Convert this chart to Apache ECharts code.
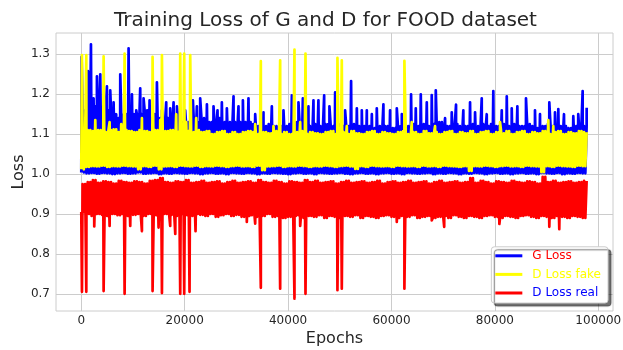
<!DOCTYPE html>
<html>
<head>
<meta charset="utf-8">
<script src="https://cdn.jsdelivr.net/npm/echarts@6/dist/echarts.min.js"></script>
<style>
  html, body { margin: 0; padding: 0; background: #fff; }
  #chart { width: 623px; height: 350px; }
</style>
</head>
<body>
<div id="chart"></div>
<script>
// epochs covered by one band bin
const BIN = 1000

const xTicks = [0, 20000, 40000, 60000, 80000, 100000]
const yTicks = [0.7, 0.8, 0.9, 1.0, 1.1, 1.2, 1.3]

// G Loss: typical band per bin (low / high) + single spikes [epoch, value]
const gLow = [
  1.004,1.002,1.003,1.001,1.003,1.002,1.000,1.002,1.003,1.001,
  1.002,1.004,1.001,1.002,1.003,1.000,1.002,1.001,1.003,1.002,
  1.001,1.003,1.002,1.000,1.002,1.003,1.001,1.002,1.000,1.003,
  1.002,1.001,1.003,1.002,1.000,1.002,1.001,1.003,1.002,1.001,
  1.000,1.002,1.003,1.001,1.002,1.000,1.003,1.002,1.001,1.002,
  1.003,1.001,1.000,1.002,1.003,1.001,1.002,1.000,1.002,1.003,
  1.001,1.002,1.000,1.003,1.002,1.001,1.002,1.003,1.000,1.002,
  1.001,1.003,1.002,1.000,1.002,1.001,1.003,1.002,1.000,1.002,
  1.003,1.001,1.002,1.000,1.002,1.003,1.001,1.002,1.000,1.003,
  1.002,1.001,1.003,1.000,1.002,1.001,1.003,1.002
]
const gHigh = [
  1.16,1.17,1.17,1.16,1.17,1.16,1.15,1.14,1.15,1.16,
  1.15,1.15,1.16,1.14,1.15,1.14,1.14,1.15,1.14,1.13,
  1.13,1.14,1.13,1.14,1.13,1.13,1.14,1.13,1.13,1.13,
  1.13,1.13,1.13,1.125,1.12,1.12,1.125,1.12,1.12,1.12,
  1.125,1.13,1.12,1.125,1.12,1.125,1.12,1.125,1.12,1.125,
  1.12,1.12,1.125,1.12,1.12,1.12,1.115,1.12,1.12,1.12,
  1.115,1.12,1.115,1.12,1.125,1.12,1.125,1.12,1.125,1.13,
  1.12,1.12,1.125,1.12,1.12,1.125,1.12,1.125,1.12,1.125,
  1.12,1.125,1.12,1.125,1.12,1.12,1.125,1.12,1.115,1.12,
  1.125,1.12,1.12,1.12,1.115,1.12,1.125,1.12
]
const gSpikes = [
  [60,1.294],[1290,1.258],[1870,1.325],[2380,1.19],[3030,1.245],[3670,1.25],
  [4960,1.22],[5600,1.21],[6250,1.18],[7540,1.25],[9150,1.315],[9800,1.2],
  [10630,1.16],[11400,1.215],[12050,1.19],[13210,1.185],[14630,1.23],[15600,1.16],
  [16430,1.18],[17200,1.165],[17850,1.18],[18500,1.17],[20100,1.16],[21590,1.185],
  [22360,1.17],[23000,1.19],[24300,1.175],[25580,1.17],[26350,1.16],[27190,1.18],
  [28160,1.165],[29450,1.195],[30410,1.17],[31260,1.185],[32340,1.19],[33640,1.15],
  [35240,1.155],[36860,1.17],[39110,1.16],[40730,1.197],[42010,1.18],[42860,1.19],
  [43940,1.17],[44910,1.185],[45870,1.185],[46980,1.197],[48000,1.17],[49100,1.205],
  [51030,1.16],[52190,1.233],[53300,1.165],[54260,1.16],[55230,1.16],[56200,1.15],
  [57160,1.165],[58440,1.175],[59730,1.16],[61030,1.165],[62000,1.15],[63790,1.2],
  [64700,1.165],[65670,1.2],[66830,1.18],[67790,1.198],[68570,1.21],[70370,1.14],
  [71660,1.155],[72490,1.174],[73900,1.16],[75200,1.18],[76170,1.155],[77460,1.19],
  [78430,1.15],[79700,1.208],[81330,1.16],[82300,1.195],[83260,1.165],[84350,1.17],
  [86020,1.19],[87760,1.16],[88730,1.15],[90530,1.18],[91630,1.155],[92270,1.163],
  [93370,1.15],[95170,1.145],[96130,1.15],[96980,1.208],[97760,1.166]
]

// D Loss fake
const fLow = [
  1.012,1.018,1.02,1.019,1.021,1.018,1.02,1.019,1.021,1.02,
  1.019,1.012,1.02,1.018,1.021,1.012,1.019,1.02,1.018,1.021,
  1.02,1.019,1.021,1.018,1.02,1.019,1.021,1.02,1.018,1.02,
  1.021,1.019,1.02,1.018,1.021,1.01,1.019,1.02,1.021,1.018,
  1.02,1.019,1.021,1.02,1.018,1.02,1.019,1.021,1.02,1.018,
  1.02,1.021,1.019,1.013,1.02,1.018,1.021,1.02,1.019,1.02,
  1.018,1.021,1.02,1.019,1.02,1.018,1.021,1.019,1.02,1.018,
  1.021,1.02,1.019,1.018,1.02,1.008,1.02,1.019,1.021,1.02,
  1.018,1.02,1.021,1.019,1.02,1.018,1.021,1.02,1.019,1.005,
  1.02,1.018,1.021,1.02,1.019,1.018,1.021,1.02
]
const fHigh = [
  1.105,1.11,1.108,1.11,1.105,1.11,1.112,1.105,1.11,1.108,
  1.105,1.11,1.108,1.105,1.11,1.105,1.108,1.11,1.105,1.11,
  1.108,1.105,1.11,1.105,1.108,1.1,1.105,1.108,1.1,1.105,
  1.1,1.105,1.108,1.105,1.1,1.105,1.102,1.108,1.1,1.105,
  1.1,1.105,1.108,1.1,1.105,1.102,1.1,1.105,1.108,1.1,
  1.105,1.1,1.108,1.102,1.1,1.105,1.108,1.1,1.105,1.102,
  1.1,1.105,1.108,1.1,1.105,1.1,1.108,1.102,1.105,1.1,
  1.105,1.108,1.1,1.105,1.102,1.108,1.1,1.105,1.108,1.1,
  1.105,1.102,1.108,1.1,1.105,1.108,1.1,1.105,1.102,1.108,
  1.1,1.105,1.108,1.1,1.105,1.102,1.108,1.105
]
const fSpikes = [
  [130,1.298],[970,1.298],[2710,1.135],[4320,1.295],[5480,1.13],[7730,1.125],
  [8380,1.302],[11730,1.14],[13790,1.294],[15270,1.135],[15600,1.298],[18360,1.15],
  [19140,1.302],[19910,1.302],[20300,1.13],[21070,1.298],[22230,1.14],[33640,1.125],
  [34730,1.283],[37180,1.12],[38470,1.285],[41240,1.312],[42340,1.13],[43370,1.302],
  [49550,1.291],[50390,1.285],[51360,1.12],[62500,1.284],[63920,1.13],[68430,1.12],
  [81000,1.13],[90340,1.135],[91300,1.12]
]

// D Loss real
const rLow = [
  0.905,0.9,0.895,0.9,0.898,0.895,0.9,0.897,0.9,0.895,
  0.898,0.9,0.895,0.9,0.897,0.895,0.9,0.898,0.895,0.9,
  0.897,0.895,0.9,0.898,0.895,0.9,0.893,0.897,0.9,0.895,
  0.898,0.893,0.895,0.897,0.893,0.895,0.9,0.893,0.895,0.89,
  0.893,0.895,0.897,0.89,0.895,0.893,0.897,0.89,0.895,0.893,
  0.89,0.895,0.893,0.897,0.89,0.895,0.893,0.89,0.895,0.897,
  0.893,0.89,0.895,0.893,0.897,0.89,0.893,0.895,0.89,0.893,
  0.895,0.89,0.897,0.893,0.89,0.895,0.893,0.89,0.895,0.897,
  0.893,0.89,0.895,0.893,0.89,0.895,0.897,0.893,0.89,0.895,
  0.893,0.89,0.895,0.893,0.89,0.895,0.893,0.89
]
const rHigh = [
  0.975,0.98,0.985,0.978,0.982,0.98,0.976,0.983,0.98,0.978,
  0.982,0.98,0.976,0.983,0.985,0.99,0.98,0.978,0.982,0.98,
  0.985,0.978,0.98,0.983,0.978,0.98,0.982,0.976,0.98,0.983,
  0.978,0.98,0.982,0.978,0.985,0.98,0.978,0.983,0.98,0.976,
  0.982,0.98,0.978,0.985,0.98,0.983,0.978,0.98,0.982,0.976,
  0.98,0.983,0.978,0.98,0.982,0.978,0.98,0.983,0.976,0.98,
  0.982,0.978,0.98,0.983,0.978,0.98,0.982,0.976,0.98,0.983,
  0.978,0.98,0.982,0.978,0.98,0.99,0.978,0.983,0.98,0.976,
  0.982,0.98,0.978,0.983,0.98,0.978,0.982,0.98,0.976,0.993,
  0.98,0.983,0.978,0.98,0.982,0.978,0.98,0.983
]
const rSpikes = [
  [130,0.705],[970,0.705],[2510,0.869],[4320,0.707],[5480,0.87],[8380,0.7],
  [9470,0.87],[11730,0.857],[13790,0.707],[14950,0.866],[15600,0.702],[17200,0.87],
  [18180,0.85],[19140,0.7],[19910,0.7],[20940,0.705],[22100,0.857],[32020,0.88],
  [33640,0.876],[34730,0.715],[38470,0.713],[41240,0.688],[42340,0.87],[43370,0.7],
  [49550,0.709],[50390,0.713],[61030,0.88],[62500,0.713],[67790,0.884],[70200,0.868],
  [80870,0.875],[90530,0.868],[92460,0.862]
]

// each bin oscillates twice between its low and high, spikes are merged in by epoch
function buildLine(low, high, spikes) {
  const pts = []
  low.forEach((lo, i) => {
    const x = i * BIN
    pts.push([x, lo], [x + BIN / 4, high[i]], [x + BIN / 2, lo], [x + 3 * BIN / 4, high[i]])
  })
  return pts.concat(spikes).sort((a, b) => a[0] - b[0])
}

const font = 'DejaVu Sans'
const textColor = '#262626'
const gridColor = '#cccccc'

const chart = echarts.init(document.getElementById('chart'))

const lineSeries = (name, color, data) => ({
  name: name,
  type: 'line',
  data: data,
  showSymbol: false,
  symbol: 'none',
  color: color,
  lineStyle: { width: 2.7, color: color, join: 'round' },
  silent: true,
})

const option = {
  animation: false,
  backgroundColor: '#fff',
  title: {
    text: 'Training Loss of G and D for FOOD dataset',
    left: 114,
    top: 11,
    padding: 0,
    textStyle: { fontFamily: font, fontSize: 20, fontWeight: 'normal', color: textColor },
  },
  legend: {
    orient: 'vertical',
    right: 15,
    bottom: 47,
    icon: 'rect',
    itemWidth: 27,
    itemHeight: 3,
    itemGap: 4.6,
    padding: [2, 7, 3, 4],
    backgroundColor: '#fff',
    borderColor: '#cccccc',
    borderWidth: 1,
    borderRadius: 3,
    shadowColor: 'rgba(0,0,0,0.55)',
    shadowBlur: 1,
    shadowOffsetX: 3,
    shadowOffsetY: 3,
    textStyle: { fontFamily: font, fontSize: 12, lineHeight: 14, padding: [0, 0, 0, 5] },
    data: [
      { name: 'G Loss', textStyle: { color: '#ff0000' } },
      { name: 'D Loss fake', textStyle: { color: '#ffff00' } },
      { name: 'D Loss real', textStyle: { color: '#0000ff' } },
    ],
  },
  grid: {
    left: 56,
    right: 10,
    top: 33,
    bottom: 39,
    outerBoundsMode: 'none',
    show: true,
    borderColor: gridColor,
    borderWidth: 1,
  },
  xAxis: {
    type: 'value',
    min: -4890,
    max: 102850,
    name: 'Epochs',
    nameLocation: 'middle',
    nameGap: 20,
    nameMoveOverlap: false,
    nameTextStyle: { fontFamily: font, fontSize: 16, color: textColor },
    axisLine: { show: false },
    axisTick: { show: false, customValues: xTicks },
    axisLabel: {
      customValues: xTicks,
      formatter: (v) => String(v),
      fontFamily: font,
      fontSize: 12,
      color: textColor,
      margin: 4,
    },
    splitLine: { show: true, lineStyle: { color: gridColor, width: 1 } },
  },
  yAxis: {
    type: 'value',
    min: 0.657,
    max: 1.3535,
    name: 'Loss',
    nameLocation: 'middle',
    nameGap: 29,
    nameMoveOverlap: false,
    nameTextStyle: { fontFamily: font, fontSize: 16, color: textColor },
    axisLine: { show: false },
    axisTick: { show: false, customValues: yTicks },
    axisLabel: {
      customValues: yTicks,
      formatter: (v) => v.toFixed(1),
      fontFamily: font,
      fontSize: 12,
      color: textColor,
      margin: 6,
    },
    splitLine: { show: true, lineStyle: { color: gridColor, width: 1 } },
  },
  series: [
    lineSeries('G Loss', '#0000ff', buildLine(gLow, gHigh, gSpikes)),
    lineSeries('D Loss fake', '#ffff00', buildLine(fLow, fHigh, fSpikes)),
    lineSeries('D Loss real', '#ff0000', buildLine(rLow, rHigh, rSpikes)),
  ],
}

chart.setOption(option)
</script>
</body>
</html>
